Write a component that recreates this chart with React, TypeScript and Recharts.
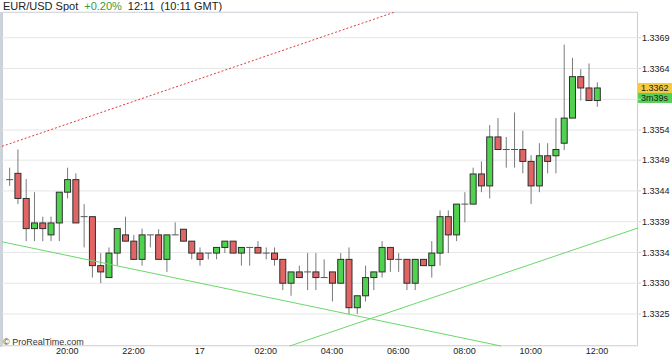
import React from 'react';
import { ComposedChart, Bar, XAxis, YAxis, CartesianGrid, ReferenceLine } from 'recharts';

// 15-minute candles, 18:15 -> 12:00
const opens = [
  1.33461, 1.33471, 1.33431, 1.33383, 1.33392, 1.33373, 1.33392, 1.33441, 1.33461, 1.33402,
  1.33402, 1.33324, 1.33305, 1.33344, 1.33373, 1.33363, 1.33334, 1.33373, 1.33373, 1.33334,
  1.33373, 1.33382, 1.33363, 1.33344, 1.33344, 1.33344, 1.33353, 1.33363, 1.33344, 1.33353,
  1.33353, 1.33344, 1.33344, 1.33334, 1.33296, 1.33314, 1.33314, 1.33314, 1.33305, 1.33314,
  1.33296, 1.33334, 1.33257, 1.33276, 1.33305, 1.33314, 1.33353, 1.33334, 1.33334, 1.33296,
  1.33334, 1.33324, 1.33344, 1.33402, 1.33373, 1.33422, 1.33422, 1.3347, 1.33451, 1.33529,
  1.33509, 1.33509, 1.33509, 1.3349, 1.33451, 1.33499, 1.33499, 1.33519, 1.33559, 1.33625,
  1.33607, 1.33587,
];
const closes = [
  1.33461, 1.33431, 1.33383, 1.33392, 1.33383, 1.33392, 1.33441, 1.33461, 1.33392, 1.33402,
  1.33324, 1.33314, 1.33344, 1.33383, 1.33363, 1.33334, 1.33373, 1.33373, 1.33334, 1.33373,
  1.33373, 1.33363, 1.33344, 1.33334, 1.33344, 1.33353, 1.33363, 1.33344, 1.33353, 1.33353,
  1.33344, 1.33344, 1.33334, 1.33296, 1.33314, 1.33305, 1.33314, 1.33305, 1.33305, 1.33296,
  1.33334, 1.33257, 1.33276, 1.33305, 1.33314, 1.33353, 1.33334, 1.33334, 1.33296, 1.33334,
  1.33324, 1.33344, 1.33402, 1.33373, 1.33422, 1.33422, 1.3347, 1.33451, 1.33529, 1.33509,
  1.33509, 1.33509, 1.3349, 1.33451, 1.33499, 1.3349, 1.33509, 1.33559, 1.33625, 1.33607,
  1.33587, 1.33607,
];
const highs = [
  1.3348, 1.33509, 1.33462, 1.33441, 1.33402, 1.33402, 1.33441, 1.3348, 1.33471, 1.33422,
  1.33402, 1.33344, 1.33353, 1.33383, 1.33402, 1.33373, 1.33383, 1.33373, 1.33382, 1.33373,
  1.33393, 1.33382, 1.33363, 1.33353, 1.33344, 1.33353, 1.33363, 1.33363, 1.33353, 1.33353,
  1.33363, 1.33353, 1.33353, 1.33334, 1.33314, 1.33324, 1.33344, 1.33344, 1.33334, 1.33314,
  1.33344, 1.33353, 1.33276, 1.33324, 1.33314, 1.33363, 1.33353, 1.33344, 1.33334, 1.33334,
  1.33334, 1.33363, 1.33412, 1.33412, 1.33422, 1.33441, 1.3348, 1.3349, 1.33548, 1.33559,
  1.33529, 1.33568, 1.33539, 1.335, 1.33519, 1.33519, 1.33559, 1.33676, 1.33655, 1.33637,
  1.33646, 1.33616,
];
const lows = [
  1.33451, 1.33422, 1.33363, 1.33363, 1.33363, 1.33363, 1.33363, 1.33431, 1.33392, 1.33353,
  1.33305, 1.33296, 1.33305, 1.33324, 1.33363, 1.33334, 1.33324, 1.33353, 1.33334, 1.33314,
  1.33373, 1.33363, 1.33334, 1.33324, 1.33334, 1.33334, 1.33344, 1.33344, 1.33324, 1.33324,
  1.33344, 1.33334, 1.33324, 1.33285, 1.33276, 1.33305, 1.33285, 1.33285, 1.33305, 1.33267,
  1.33296, 1.33247, 1.33247, 1.33267, 1.33285, 1.33305, 1.33314, 1.33314, 1.33285, 1.33285,
  1.33324, 1.33305, 1.33324, 1.33344, 1.33363, 1.33393, 1.33422, 1.33441, 1.33431, 1.33509,
  1.3348, 1.3348, 1.33471, 1.33422, 1.33441, 1.33471, 1.33471, 1.33508, 1.33559, 1.33587,
  1.33587, 1.33577,
];

const timeTickIndex = [7, 15, 23, 31, 39, 47, 55, 63, 71];
const timeTickLabels = ['20:00', '22:00', '17', '02:00', '04:00', '06:00', '08:00', '10:00', '12:00'];

const priceTicks = [1.33247, 1.33296, 1.33345, 1.33394, 1.33443, 1.33492, 1.3354, 1.33589, 1.33638, 1.33687];
const priceTickLabels = ['1.3325', '1.3330', '1.3334', '1.3339', '1.3344', '1.3349', '1.3354', '', '1.3364', '1.3369'];

// trend lines drawn on the chart: [x1 (candle idx), y1, x2, y2]
const resistanceLine = [-0.88, 1.33514, 46.6, 1.33728];
const supportDown = [-0.88, 1.33362, 59.4, 1.33196];
const supportUp = [33.9, 1.33196, 75.96, 1.33384];

const lastPriceLabel = '1.3362';
const countdownLabel = '3m39s';

const candles = opens.map((o, i) => ({
  i,
  open: o,
  close: closes[i],
  high: highs[i],
  low: lows[i],
  range: [lows[i], highs[i]],
}));

const Candle = (props: any) => {
  const { x, y, width, height, payload } = props;
  const { open, close, high, low } = payload;
  const cx = x + width / 2;
  const k = high - low > 0 ? height / (high - low) : 0;
  const yOf = (v: number) => y + (high - v) * k;
  const yo = yOf(open);
  const yc = yOf(close);
  const top = Math.min(yo, yc);
  const bot = Math.max(yo, yc);
  const half = 3;
  return (
    <g>
      <line x1={cx} x2={cx} y1={y} y2={y + height} stroke="#7a7a7a" strokeWidth={1} />
      {open === close ? (
        <line x1={cx - half - 0.5} x2={cx + half + 0.5} y1={yo} y2={yo} stroke="#555" strokeWidth={1} />
      ) : (
        <rect
          x={cx - half}
          y={top}
          width={half * 2}
          height={Math.max(bot - top, 1)}
          fill={close > open ? '#4fd34f' : '#e16565'}
          stroke="#2f2f2f"
          strokeWidth={1}
        />
      )}
    </g>
  );
};

const TimeTick = (props: any) => {
  const { x, payload } = props;
  const label = timeTickLabels[timeTickIndex.indexOf(payload.value)] ?? '';
  return (
    <text x={x} y={354} textAnchor="middle" fontSize={9} fill="#222">{label}</text>
  );
};

const PriceTag = (props: any) => {
  const { viewBox } = props;
  const x = viewBox.x + viewBox.width;
  const y = viewBox.y;
  return (
    <g>
      <rect x={x} y={y - 5} width={34} height={10} fill="#f6c93f" />
      <text x={x + 3} y={y + 3.5} fontSize={9} fill="#222">{lastPriceLabel}</text>
      <rect x={x} y={y + 5} width={34} height={10} fill="#55d055" />
      <text x={x + 3} y={y + 13.5} fontSize={9} fill="#222">{countdownLabel}</text>
    </g>
  );
};

const seg = (l: number[]) => [{ x: l[0], y: l[1] }, { x: l[2], y: l[3] }];

export default function App() {
  return (
    <div style={{ position: 'absolute', left: 0, top: 0, width: 672, height: 358, background: '#fff', fontFamily: '"Liberation Sans", Arial, sans-serif' }}>
      <div style={{ position: 'absolute', left: 3, top: 0, fontSize: 11, lineHeight: '12px', color: '#222', whiteSpace: 'nowrap' }}>
        <span>EUR/USD Spot</span>
        <span style={{ color: '#3b9a3b', marginLeft: 6 }}>+0.20%</span>
        <span style={{ marginLeft: 6 }}>12:11</span>
        <span style={{ marginLeft: 6 }}>(10:11 GMT)</span>
      </div>
      <div style={{ position: 'absolute', left: 2, top: 12, width: 636, height: 334, boxSizing: 'border-box', border: '1px solid #c6ced6' }} />
      <div style={{ position: 'absolute', left: 0, top: 12, width: 2, height: 335, background: '#cdd3d9' }} />
      <ComposedChart
        width={672}
        height={358}
        data={candles}
        margin={{ top: 12, right: 0, bottom: 0, left: 2 }}
        style={{ position: 'absolute', left: 0, top: 0 }}
      >
        <CartesianGrid vertical={false} stroke="#e6e6e6" />
        <XAxis
          type="number"
          dataKey="i"
          domain={[-0.88, 75.96]}
          ticks={timeTickIndex}
          interval={0}
          allowDataOverflow
          height={12}
          tickLine={false}
          axisLine={false}
          tick={<TimeTick />}
        />
        <YAxis
          orientation="right"
          type="number"
          domain={[1.33196, 1.33728]}
          ticks={priceTicks}
          interval={0}
          allowDataOverflow
          tickFormatter={(v: number) => priceTickLabels[priceTicks.indexOf(v)] ?? ''}
          width={34}
          tickSize={3}
          tickMargin={1}
          axisLine={false}
          tickLine={{ stroke: '#d0d0d0' }}
          tick={{ fontSize: 9, fill: '#222' }}
        />
        <ReferenceLine segment={seg(resistanceLine)} stroke="#e23a3a" strokeDasharray="2 2" strokeWidth={1} ifOverflow="visible" />
        <ReferenceLine segment={seg(supportDown)} stroke="#6ad86a" strokeWidth={1} ifOverflow="visible" />
        <ReferenceLine segment={seg(supportUp)} stroke="#6ad86a" strokeWidth={1} ifOverflow="visible" />
        <Bar dataKey="range" barSize={7} shape={<Candle />} isAnimationActive={false} />
        <ReferenceLine y={closes[closes.length - 1]} stroke="none" ifOverflow="visible" label={<PriceTag />} />
      </ComposedChart>
      <div style={{ position: 'absolute', left: 3, top: 337, fontSize: 9, color: '#333' }}>© ProRealTime.com</div>
    </div>
  );
}
